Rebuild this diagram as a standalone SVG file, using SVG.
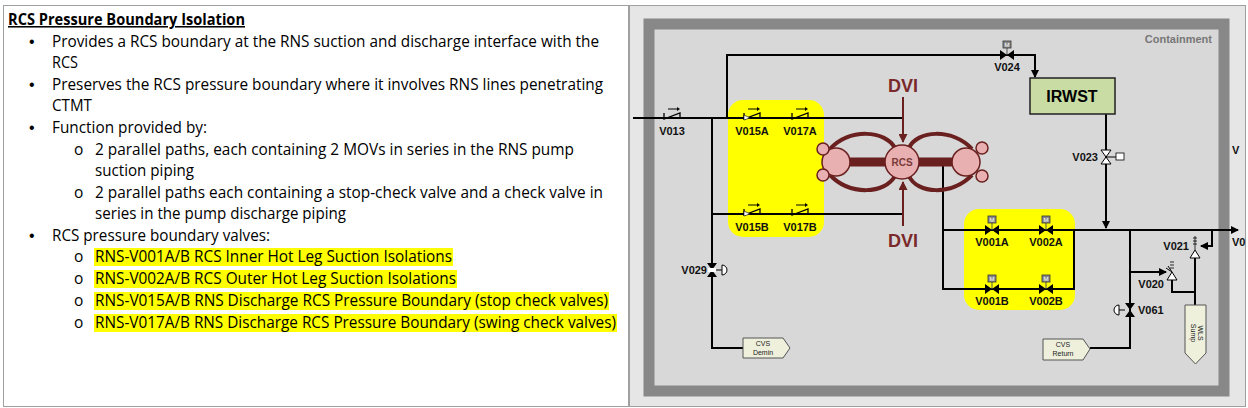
<svg xmlns="http://www.w3.org/2000/svg" width="1248" height="408" viewBox="0 0 1248 408">
<style>
.t{font-family:"Open Sans","Liberation Sans",sans-serif;font-size:15.5px;fill:#000}
.b{font-family:"Liberation Sans",sans-serif;font-size:16px;fill:#000}
.hl{fill:#ffff00}
.p{stroke:#000;stroke-width:2;fill:none}
.r{stroke:#6b2020;fill:none}
.lb{font-family:"Liberation Sans",Arial,sans-serif;font-weight:bold;font-size:11px;fill:#111}
.dvi{font-family:"Liberation Sans",Arial,sans-serif;font-size:18px;font-weight:bold;fill:#7a2a2a}
.sm{font-family:"Liberation Sans",Arial,sans-serif;font-size:7px;fill:#222}
</style>
<defs>
<marker id="ah" markerWidth="8" markerHeight="8" refX="7" refY="4" orient="auto" markerUnits="userSpaceOnUse"><path d="M0,0 L8,4 L0,8 z" fill="#000"/></marker>
<marker id="rh" markerWidth="9" markerHeight="9" refX="8" refY="4.5" orient="auto" markerUnits="userSpaceOnUse"><path d="M0,0 L9,4.5 L0,9 z" fill="#6b2020"/></marker>
<g id="gate"><path d="M-7,-5 L0,0 L-7,5 z M7,-5 L0,0 L7,5 z" fill="#000"/></g>
<g id="mov"><use href="#gate"/><line x1="0" y1="0" x2="0" y2="-8" stroke="#555" stroke-width="1"/><rect x="-4" y="-14" width="8" height="7" fill="#8a8a8a" stroke="#333" stroke-width="0.8"/><text x="0" y="-8.5" font-family="Liberation Sans,sans-serif" font-size="6" text-anchor="middle" fill="#fff">M</text></g>
<g id="chk"><path d="M-8,-5 L-8,1 L8,-5 L8,1" stroke="#000" stroke-width="1.3" fill="none"/><line x1="-4" y1="-9" x2="5" y2="-9" stroke="#000" stroke-width="1"/><path d="M5,-11 L8,-9 L5,-7 z" fill="#000"/></g>
<g id="stchk"><use href="#chk"/><path d="M-8,-3 L-2,0 L-8,2 z" fill="#fff" stroke="#000" stroke-width="0.6"/></g>
</defs>
<rect x="0" y="0" width="1248" height="408" fill="#fff"/>
<rect x="3.5" y="5.5" width="625" height="401" fill="#fff" stroke="#a0a0a0"/>
<rect x="629.5" y="5.5" width="616" height="401" fill="#e6e6e6" stroke="#a0a0a0"/>
<g id="text">
<rect class="hl" x="94" y="248" width="359" height="18"/>
<rect class="hl" x="94" y="270" width="363" height="18"/>
<rect class="hl" x="94" y="292" width="515" height="18"/>
<rect class="hl" x="94" y="314" width="523" height="18"/>
<text class="t" x="8" y="25" font-weight="bold" text-decoration="underline" textLength="237" lengthAdjust="spacingAndGlyphs">RCS Pressure Boundary Isolation</text>
<text class="b" x="29" y="47">•</text><text class="t" x="52" y="47" textLength="547" lengthAdjust="spacingAndGlyphs">Provides a RCS boundary at the RNS suction and discharge interface with the</text>
<text class="t" x="52" y="68" textLength="26" lengthAdjust="spacingAndGlyphs">RCS</text>
<text class="b" x="29" y="90">•</text><text class="t" x="52" y="90" textLength="551" lengthAdjust="spacingAndGlyphs">Preserves the RCS pressure boundary where it involves RNS lines penetrating</text>
<text class="t" x="52" y="111" textLength="40" lengthAdjust="spacingAndGlyphs">CTMT</text>
<text class="b" x="29" y="133">•</text><text class="t" x="52" y="133" textLength="155" lengthAdjust="spacingAndGlyphs">Function provided by:</text>
<text class="t" x="74" y="155">o</text><text class="t" x="95" y="155" textLength="479" lengthAdjust="spacingAndGlyphs">2 parallel paths, each containing 2 MOVs in series in the RNS pump</text>
<text class="t" x="95" y="176" textLength="99" lengthAdjust="spacingAndGlyphs">suction piping</text>
<text class="t" x="74" y="198">o</text><text class="t" x="95" y="198" textLength="508" lengthAdjust="spacingAndGlyphs">2 parallel paths each containing a stop-check valve and a check valve in</text>
<text class="t" x="95" y="219" textLength="251" lengthAdjust="spacingAndGlyphs">series in the pump discharge piping</text>
<text class="b" x="29" y="241">•</text><text class="t" x="52" y="241" textLength="218" lengthAdjust="spacingAndGlyphs">RCS pressure boundary valves:</text>
<text class="t" x="74" y="262">o</text><text class="t" x="95" y="262" textLength="357" lengthAdjust="spacingAndGlyphs">RNS-V001A/B RCS Inner Hot Leg Suction Isolations</text>
<text class="t" x="74" y="284">o</text><text class="t" x="95" y="284" textLength="361" lengthAdjust="spacingAndGlyphs">RNS-V002A/B RCS Outer Hot Leg Suction Isolations</text>
<text class="t" x="74" y="306">o</text><text class="t" x="95" y="306" textLength="513" lengthAdjust="spacingAndGlyphs">RNS-V015A/B RNS Discharge RCS Pressure Boundary (stop check valves)</text>
<text class="t" x="74" y="328">o</text><text class="t" x="95" y="328" textLength="521" lengthAdjust="spacingAndGlyphs">RNS-V017A/B RNS Discharge RCS Pressure Boundary (swing check valves)</text>
</g>
<g id="containment">
<rect x="649" y="24" width="575" height="367" fill="#d8d8d8" stroke="#888" stroke-width="11"/>
<text x="1212" y="43" font-family="Liberation Sans,Arial,sans-serif" font-weight="bold" font-size="11" fill="#777" text-anchor="end">Containment</text>
</g>
<g id="highlights">
<rect class="hl" x="728" y="100" width="96" height="137" rx="15"/>
<rect class="hl" x="964" y="209" width="111" height="101" rx="15"/>
</g>
<g id="connectors">
<path class="p" d="M633,118 H902"/>
<path class="p" d="M727,118 V55 H1035 V77" marker-end="url(#ah)"/>
<path class="p" d="M712,118 V348 H743"/>
<path class="p" d="M712,214 H902"/>
<path class="p" d="M943,165 V289 H1074 V230"/>
<path class="p" d="M943,230 H1238" marker-end="url(#ah)"/>
<path class="p" d="M1106,114 V228" marker-end="url(#ah)"/>
<path class="p" d="M1130,230 V348 H1090"/>
<path class="p" d="M1130,272 H1166" marker-end="url(#ah)"/>
<path class="p" d="M1172,280 V292 H1195"/>
<path class="p" d="M1212,230 V246 H1201" marker-end="url(#ah)"/>
<path class="p" d="M1195,252 V305"/>
<path stroke="#6b2020" stroke-width="2" d="M903,97 V142" marker-end="url(#rh)" fill="none"/>
<path stroke="#6b2020" stroke-width="2" d="M903,226 V182" marker-end="url(#rh)" fill="none"/>
</g>
<g id="rcs">
<line x1="836" y1="162" x2="966" y2="162" stroke="#6b2020" stroke-width="9"/>
<path class="r" stroke-width="4" d="M830,149 C850,128 885,130 895,148 M830,175 C850,196 885,194 895,176 M972,149 C952,128 917,130 909,148 M972,175 C952,196 917,194 909,176"/>
<circle cx="836" cy="162" r="14" fill="#e8b0b0" stroke="#6b2020" stroke-width="1.5"/>
<circle cx="823" cy="149" r="6" fill="#e8b0b0" stroke="#6b2020" stroke-width="1.5"/>
<circle cx="823" cy="175" r="6" fill="#e8b0b0" stroke="#6b2020" stroke-width="1.5"/>
<circle cx="966" cy="162" r="14" fill="#e8b0b0" stroke="#6b2020" stroke-width="1.5"/>
<circle cx="982" cy="148" r="6" fill="#e8b0b0" stroke="#6b2020" stroke-width="1.5"/>
<circle cx="982" cy="176" r="6" fill="#e8b0b0" stroke="#6b2020" stroke-width="1.5"/>
<circle cx="902" cy="162" r="17" fill="#e8b0b0" stroke="#6b2020" stroke-width="1.5"/>
<text x="902" y="166" font-family="Liberation Sans,Arial,sans-serif" font-weight="bold" font-size="10" fill="#7a3a3a" text-anchor="middle">RCS</text>
<text class="dvi" x="903" y="92" text-anchor="middle">DVI</text>
<text class="dvi" x="903" y="247" text-anchor="middle">DVI</text>
</g>
<g id="irwst">
<rect x="1030" y="78" width="85" height="36" fill="#c8dca4" stroke="#222" stroke-width="1.5"/>
<text x="1072" y="102" font-family="Liberation Sans,Arial,sans-serif" font-weight="bold" font-size="16" text-anchor="middle">IRWST</text>
</g>
<g id="valves">
<use href="#chk" x="672" y="118"/><text class="lb" x="672" y="135" text-anchor="middle">V013</text>
<use href="#stchk" x="752" y="118"/><text class="lb" x="752" y="135" text-anchor="middle">V015A</text>
<use href="#chk" x="800" y="118"/><text class="lb" x="800" y="135" text-anchor="middle">V017A</text>
<use href="#stchk" x="752" y="214"/><text class="lb" x="752" y="231" text-anchor="middle">V015B</text>
<use href="#chk" x="800" y="214"/><text class="lb" x="800" y="231" text-anchor="middle">V017B</text>
<use href="#mov" x="1007" y="55"/><text class="lb" x="1007" y="71" text-anchor="middle">V024</text>
<use href="#mov" x="992" y="230"/><text class="lb" x="992" y="246" text-anchor="middle">V001A</text>
<use href="#mov" x="1046" y="230"/><text class="lb" x="1046" y="246" text-anchor="middle">V002A</text>
<use href="#mov" x="992" y="289"/><text class="lb" x="992" y="305" text-anchor="middle">V001B</text>
<use href="#mov" x="1046" y="289"/><text class="lb" x="1046" y="305" text-anchor="middle">V002B</text>
<g id="v023"><path d="M1101,150 L1106,157 L1111,150 z M1101,164 L1106,157 L1111,164 z" fill="#fff" stroke="#000"/><line x1="1106" y1="157" x2="1116" y2="157" stroke="#000"/><rect x="1116" y="153" width="8" height="7" fill="#fff" stroke="#000" stroke-width="0.8"/><text class="lb" x="1098" y="161" text-anchor="end">V023</text></g>
<g id="v029"><path d="M707,263 L712,270 L717,263 z M707,277 L712,270 L717,277 z" fill="#000"/><rect x="708" y="268" width="8" height="4" fill="#fff"/><line x1="716" y1="270" x2="722" y2="270" stroke="#000"/><path d="M722,265 A5,5 0 0 1 722,275 z" fill="#fff" stroke="#000"/><text class="lb" x="707" y="274" text-anchor="end">V029</text></g>
<g id="v061"><path d="M1125,303 L1130,310 L1135,303 z M1125,317 L1130,310 L1135,317 z" fill="#000"/><line x1="1125" y1="310" x2="1119" y2="310" stroke="#000"/><path d="M1119,305 A5,5 0 0 0 1119,315 z" fill="#fff" stroke="#000"/><text class="lb" x="1138" y="314">V061</text></g>
<g id="v020"><path d="M1167,280 L1172,272 L1177,280 z" fill="#fff" stroke="#000"/><path d="M1168,266 L1172,272 L1166,268" stroke="#000" fill="none"/><path d="M1170,262 h4 M1170,265 h4 M1170,268 h4" stroke="#000" stroke-width="0.8"/><text class="lb" x="1164" y="288" text-anchor="end">V020</text></g>
<g id="v021"><path d="M1190,258 L1195,250 L1200,258 z" fill="#fff" stroke="#000"/><path d="M1193,238 h4 M1193,241 h4 M1193,244 h4 M1195,236 V250" stroke="#000" stroke-width="0.8"/><text class="lb" x="1189" y="250" text-anchor="end">V021</text></g>
<text class="lb" x="1232" y="154">V</text>
<text class="lb" x="1232" y="246">V0</text>
</g>
<g id="cvs-demin"><path d="M743,338 H783 L790,348 L783,358 H743 z" fill="#eef0dc" stroke="#555"/><text class="sm" x="763" y="346" text-anchor="middle">CVS</text><text class="sm" x="763" y="355" text-anchor="middle">Demin</text></g>
<g id="cvs-return"><path d="M1043,339 H1083 L1090,349 L1083,360 H1043 z" fill="#eef0dc" stroke="#555"/><text class="sm" x="1063" y="347" text-anchor="middle">CVS</text><text class="sm" x="1063" y="356" text-anchor="middle">Return</text></g>
<g id="wls-sump"><path d="M1185,305 H1206 V353 L1195.5,364 L1185,353 z" fill="#eef0dc" stroke="#555"/><text class="sm" transform="translate(1198,333) rotate(90)" text-anchor="middle">WLS</text><text class="sm" transform="translate(1191,333) rotate(90)" text-anchor="middle">Sump</text></g>
</svg>
